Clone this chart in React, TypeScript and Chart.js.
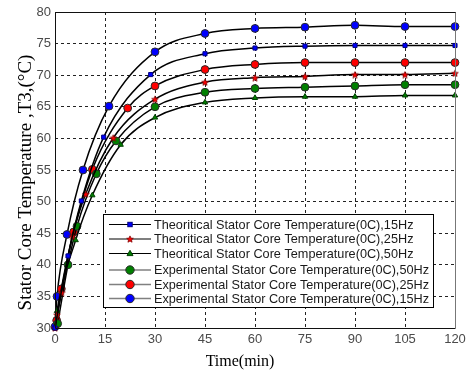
import React, { useEffect, useRef } from "react";
import { Chart, registerables } from "chart.js";
Chart.register(...registerables);

// ---- data ----
const xTickValues = [0, 15, 30, 45, 60, 75, 90, 105, 120];
const yTickValues = [30, 35, 40, 45, 50, 55, 60, 65, 70, 75, 80];

const theo15Time = [0, 3.9, 7.9, 14.6, 28.7, 45, 60, 75, 90, 105, 120];
const theo15Temp = [30, 41.4, 50.1, 60.2, 70.1, 73.4, 74.3, 74.6, 74.7, 74.7, 74.7];

const theo25Time = [0, 0.6, 2, 5.2, 9.2, 17.5, 30, 45, 60, 75, 90, 105, 120];
const theo25Temp = [30, 32.1, 35.6, 44.5, 51.2, 60.1, 66.2, 68.9, 69.6, 69.8, 70.1, 70.1, 70.3];

const theo50Time = [0, 0.6, 6.2, 11.2, 19.7, 30, 45, 60, 75, 90, 105, 120];
const theo50Temp = [30, 32.7, 43.9, 51.0, 59.0, 63.3, 65.7, 66.4, 66.6, 66.6, 66.8, 66.8];

const exp50Time = [0.8, 3.9, 6.6, 12.4, 18.3, 30, 45, 60, 75, 90, 105, 120];
const exp50Temp = [30.7, 40.0, 46.1, 54.4, 59.6, 65.0, 67.3, 67.9, 68.1, 68.3, 68.5, 68.5];

const exp25Time = [0.5, 1.9, 5.6, 11.2, 21.8, 30, 45, 60, 75, 90, 105, 120];
const exp25Temp = [31.2, 36.2, 45.2, 55.1, 64.8, 68.3, 70.9, 71.7, 72.0, 72.0, 72.0, 72.0];

const exp15Time = [0, 0.6, 3.6, 8.4, 16.2, 30, 45, 60, 75, 90, 105, 120];
const exp15Temp = [30.2, 35.0, 44.8, 55.0, 65.1, 73.7, 76.6, 77.4, 77.6, 77.9, 77.7, 77.7];

const seriesLabels = [
  "Theoritical Stator Core Temperature(0C),15Hz",
  "Theoritical Stator Core Temperature(0C),25Hz",
  "Theoritical Stator Core Temperature(0C),50Hz",
  "Experimental Stator Core Temperature(0C),50Hz",
  "Experimental Stator Core Temperature(0C),25Hz",
  "Experimental Stator Core Temperature(0C),15Hz",
];

const xTitle = "Time(min)";
const yTitle = "Stator Core Temperature ,T3,(\u00B0C)";

// ---- helpers ----
const pts = (t: number[], v: number[]) => t.map((x, i) => ({ x, y: v[i] }));

function makeStar(size: number, fill: string, stroke: string) {
  const c = document.createElement("canvas");
  c.width = size;
  c.height = size;
  const g = c.getContext("2d")!;
  const cx = size / 2, cy = size / 2 + 0.4;
  const R = size / 2 - 0.5, r = R * 0.45;
  g.beginPath();
  for (let i = 0; i < 10; i++) {
    const rad = i % 2 === 0 ? R : r;
    const a = -Math.PI / 2 + (i * Math.PI) / 5;
    const px = cx + rad * Math.cos(a), py = cy + rad * Math.sin(a);
    if (i === 0) g.moveTo(px, py); else g.lineTo(px, py);
  }
  g.closePath();
  g.fillStyle = fill;
  g.fill();
  g.lineWidth = 0.8;
  g.strokeStyle = stroke;
  g.stroke();
  return c;
}

export default function App() {
  const ref = useRef<HTMLCanvasElement | null>(null);

  useEffect(() => {
    document.body.style.margin = "0";
    const canvas = ref.current!;
    const star = makeStar(8, "#ff0000", "#800000");

    const lineCommon = {
      borderColor: "#000",
      borderWidth: 1.5,
      cubicInterpolationMode: "monotone" as const,
      clip: false as const,
      pointBorderWidth: 1,
    };

    const markerStyles = [
      { pointStyle: "rect", r: 2.9, bg: "#0000ff", bd: "#000080" },
      { pointStyle: star, r: 4, bg: "#ff0000", bd: "#800000" },
      { pointStyle: "triangle", r: 3.1, bg: "#008000", bd: "#004000" },
      { pointStyle: "circle", r: 3.9, bg: "#008000", bd: "#2a2a2a" },
      { pointStyle: "circle", r: 3.9, bg: "#ff0000", bd: "#2a2a2a" },
      { pointStyle: "circle", r: 3.9, bg: "#0000ff", bd: "#2a2a2a" },
    ];

    const dataList = [
      pts(theo15Time, theo15Temp),
      pts(theo25Time, theo25Temp),
      pts(theo50Time, theo50Temp),
      pts(exp50Time, exp50Temp),
      pts(exp25Time, exp25Temp),
      pts(exp15Time, exp15Temp),
    ];

    const datasets = dataList.map((d, i) => ({
      ...lineCommon,
      label: seriesLabels[i],
      data: d,
      pointStyle: markerStyles[i].pointStyle as any,
      pointRadius: markerStyles[i].r,
      pointBackgroundColor: markerStyles[i].bg,
      pointBorderColor: markerStyles[i].bd,
    }));

    const drawMarker = (ctx: CanvasRenderingContext2D, i: number, x: number, y: number) => {
      const m = markerStyles[i];
      ctx.save();
      ctx.fillStyle = m.bg;
      ctx.strokeStyle = m.bd;
      ctx.lineWidth = 1;
      if (m.pointStyle === "rect") {
        const s = 2.2;
        ctx.fillRect(x - s, y - s, 2 * s, 2 * s);
        ctx.strokeRect(x - s, y - s, 2 * s, 2 * s);
      } else if (m.pointStyle === "triangle") {
        ctx.beginPath();
        ctx.moveTo(x, y - 3.2);
        ctx.lineTo(x + 3, y + 2.1);
        ctx.lineTo(x - 3, y + 2.1);
        ctx.closePath();
        ctx.fill();
        ctx.stroke();
      } else if (m.pointStyle === "circle") {
        ctx.beginPath();
        ctx.arc(x, y, 4.2, 0, Math.PI * 2);
        ctx.fill();
        ctx.stroke();
      } else {
        ctx.drawImage(star, x - 4, y - 4);
      }
      ctx.restore();
    };

    const overlay = {
      id: "overlay",
      afterDraw(chart: any) {
        const { ctx, chartArea: a } = chart;
        ctx.save();
        // plot box
        const L = Math.round(a.left) + 0.5, T = Math.round(a.top) + 0.5;
        const R = Math.round(a.right) + 0.5, B = Math.round(a.bottom) + 0.5;
        ctx.lineWidth = 1;
        ctx.strokeStyle = "#111";
        ctx.beginPath();
        ctx.moveTo(R, T); ctx.lineTo(L, T); ctx.lineTo(L, B); ctx.lineTo(R, B);
        ctx.stroke();
        ctx.strokeStyle = "#777";
        ctx.beginPath();
        ctx.moveTo(R, T); ctx.lineTo(R, B);
        ctx.stroke();

        // legend
        const lx = 103.5, ly = 214.5, lw = 330, lh = 93;
        ctx.fillStyle = "#fff";
        ctx.fillRect(lx, ly, lw, lh);
        ctx.strokeStyle = "#000";
        ctx.strokeRect(lx, ly, lw, lh);
        const rows = [224.5, 239, 253.5, 270, 284.5, 298.5];
        ctx.font = "12.7px 'Liberation Sans', Arial, sans-serif";
        ctx.textBaseline = "middle";
        ctx.textAlign = "left";
        rows.forEach((ry, i) => {
          ctx.beginPath();
          ctx.strokeStyle = i < 3 ? "#000" : "#808080";
          ctx.lineWidth = i < 3 ? 1.2 : 1.6;
          ctx.moveTo(109, ry);
          ctx.lineTo(151, ry);
          ctx.stroke();
          drawMarker(ctx, i, 130, ry);
          ctx.fillStyle = "#1a1a1a";
          ctx.fillText(seriesLabels[i], 154, ry + 0.5);
        });

        // axis titles
        ctx.fillStyle = "#000";
        ctx.textAlign = "center";
        ctx.textBaseline = "middle";
        ctx.font = "16px 'Liberation Serif', 'Times New Roman', serif";
        ctx.fillText(xTitle, 240, 362);
        ctx.save();
        ctx.translate(26, 182.5);
        ctx.rotate(-Math.PI / 2);
        ctx.font = "19px 'Liberation Serif', 'Times New Roman', serif";
        ctx.fillText(yTitle, 0, 0);
        ctx.restore();
        ctx.restore();
      },
    };

    const tickFont = { family: "'Liberation Sans', Arial, sans-serif", size: 13 };

    const chart = new Chart(canvas, {
      type: "line",
      data: { datasets: datasets as any },
      options: {
        animation: false,
        responsive: false,
        layout: { padding: { top: 12, right: 15, left: 0, bottom: 0 } },
        plugins: { legend: { display: false }, tooltip: { enabled: false } },
        scales: {
          x: {
            type: "linear",
            min: 0,
            max: 120,
            afterBuildTicks: (s: any) => { s.ticks = xTickValues.map((v) => ({ value: v })); },
            afterFit: (s: any) => { s.height = 46; },
            ticks: { font: tickFont, color: "#4a4a4a", padding: 4, maxRotation: 0, autoSkip: false },
            grid: { color: "#222", lineWidth: 1, drawTicks: false },
            border: { display: false, dash: [3, 3] },
          },
          y: {
            type: "linear",
            min: 30,
            max: 80,
            afterBuildTicks: (s: any) => { s.ticks = yTickValues.map((v) => ({ value: v })); },
            afterFit: (s: any) => { s.width = 55; },
            ticks: { font: tickFont, color: "#4a4a4a", padding: 4, autoSkip: false },
            grid: { color: "#222", lineWidth: 1, drawTicks: false },
            border: { display: false, dash: [3, 3] },
          },
        },
      },
      plugins: [overlay],
    });
    return () => chart.destroy();
  }, []);

  return (
    <div style={{ width: 470, height: 374 }}>
      <canvas ref={ref} width={470} height={374} style={{ display: "block" }} />
    </div>
  );
}
